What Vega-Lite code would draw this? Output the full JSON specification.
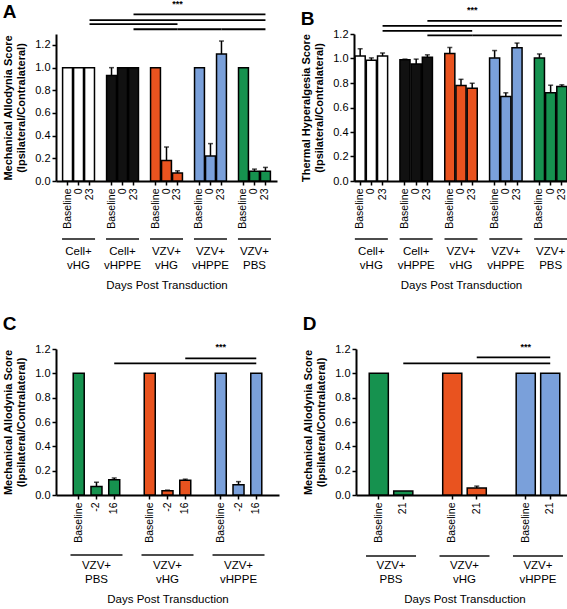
{
"$schema": "https://vega.github.io/schema/vega-lite/v6.json",
"background": "white",
"padding": {"left": 2, "top": 0, "right": 2, "bottom": 0},
"config": {
  "font": "Liberation Sans",
  "view": {"stroke": null},
  "axis": {"domainColor": "black", "domainWidth": 2, "tickColor": "black", "tickWidth": 1.5, "labelColor": "black", "titleColor": "black", "grid": false, "labelFontSize": 11, "titleFontSize": 11, "labelOverlap": false},
  "axisY": {"tickSize": 4, "labelPadding": 2, "titleFontWeight": "bold", "titlePadding": 8},
  "axisX": {"tickSize": 4, "labelPadding": 3, "labelFontSize": 10.5, "titleFontWeight": "normal", "titleFontSize": 11.5, "titlePadding": 51},
  "title": {"fontSize": 19, "fontWeight": "bold", "anchor": "start", "color": "black"}
},
"datasets": {
  "aBars": [
    {"key": "Cell+ vHG|Baseline", "group": "Cell+ vHG", "value": 1.0},
    {"key": "Cell+ vHG|0", "group": "Cell+ vHG", "value": 1.0},
    {"key": "Cell+ vHG|23", "group": "Cell+ vHG", "value": 1.0},
    {"key": "Cell+ vHPPE|Baseline", "group": "Cell+ vHPPE", "value": 0.93, "upper": 1.0},
    {"key": "Cell+ vHPPE|0", "group": "Cell+ vHPPE", "value": 1.0},
    {"key": "Cell+ vHPPE|23", "group": "Cell+ vHPPE", "value": 1.0},
    {"key": "VZV+ vHG|Baseline", "group": "VZV+ vHG", "value": 1.0},
    {"key": "VZV+ vHG|0", "group": "VZV+ vHG", "value": 0.18, "upper": 0.3},
    {"key": "VZV+ vHG|23", "group": "VZV+ vHG", "value": 0.07, "upper": 0.09},
    {"key": "VZV+ vHPPE|Baseline", "group": "VZV+ vHPPE", "value": 1.0},
    {"key": "VZV+ vHPPE|0", "group": "VZV+ vHPPE", "value": 0.22, "upper": 0.33},
    {"key": "VZV+ vHPPE|23", "group": "VZV+ vHPPE", "value": 1.12, "upper": 1.235},
    {"key": "VZV+ PBS|Baseline", "group": "VZV+ PBS", "value": 1.0},
    {"key": "VZV+ PBS|0", "group": "VZV+ PBS", "value": 0.085, "upper": 0.105},
    {"key": "VZV+ PBS|23", "group": "VZV+ PBS", "value": 0.085, "upper": 0.12}
  ],
  "abGroups": [
    {"group": "Cell+ vHG", "key": "Cell+ vHG|0"},
    {"group": "Cell+ vHPPE", "key": "Cell+ vHPPE|0"},
    {"group": "VZV+ vHG", "key": "VZV+ vHG|0"},
    {"group": "VZV+ vHPPE", "key": "VZV+ vHPPE|0"},
    {"group": "VZV+ PBS", "key": "VZV+ PBS|0"}
  ],
  "aSig": [
    {"line": 1, "key": "Cell+ vHPPE|23", "value": 1.471}, {"line": 1, "key": "VZV+ PBS|23", "value": 1.471},
    {"line": 2, "key": "Cell+ vHG|23", "value": 1.42}, {"line": 2, "key": "VZV+ PBS|23", "value": 1.42},
    {"line": 3, "key": "Cell+ vHG|23", "value": 1.385}, {"line": 3, "key": "VZV+ vHG|23", "value": 1.385},
    {"line": 4, "key": "Cell+ vHPPE|23", "value": 1.339}, {"line": 4, "key": "VZV+ vHG|23", "value": 1.339},
    {"line": 5, "key": "VZV+ vHG|23", "value": 1.339}, {"line": 5, "key": "VZV+ vHPPE|23", "value": 1.339},
    {"line": 6, "key": "VZV+ vHPPE|23", "value": 1.339}, {"line": 6, "key": "VZV+ PBS|23", "value": 1.339}
  ],
  "aStar": [{"key": "VZV+ vHG|23", "value": 1.56, "label": "***"}],
  "bBars": [
    {"key": "Cell+ vHG|Baseline", "group": "Cell+ vHG", "value": 1.02, "upper": 1.08},
    {"key": "Cell+ vHG|0", "group": "Cell+ vHG", "value": 0.985, "upper": 1.005},
    {"key": "Cell+ vHG|23", "group": "Cell+ vHG", "value": 1.02, "upper": 1.045},
    {"key": "Cell+ vHPPE|Baseline", "group": "Cell+ vHPPE", "value": 0.99, "upper": 0.995},
    {"key": "Cell+ vHPPE|0", "group": "Cell+ vHPPE", "value": 0.955, "upper": 0.995},
    {"key": "Cell+ vHPPE|23", "group": "Cell+ vHPPE", "value": 1.01, "upper": 1.03},
    {"key": "VZV+ vHG|Baseline", "group": "VZV+ vHG", "value": 1.04, "upper": 1.09},
    {"key": "VZV+ vHG|0", "group": "VZV+ vHG", "value": 0.78, "upper": 0.83},
    {"key": "VZV+ vHG|23", "group": "VZV+ vHG", "value": 0.757, "upper": 0.798},
    {"key": "VZV+ vHPPE|Baseline", "group": "VZV+ vHPPE", "value": 1.005, "upper": 1.065},
    {"key": "VZV+ vHPPE|0", "group": "VZV+ vHPPE", "value": 0.69, "upper": 0.72},
    {"key": "VZV+ vHPPE|23", "group": "VZV+ vHPPE", "value": 1.088, "upper": 1.126},
    {"key": "VZV+ PBS|Baseline", "group": "VZV+ PBS", "value": 1.005, "upper": 1.037},
    {"key": "VZV+ PBS|0", "group": "VZV+ PBS", "value": 0.72, "upper": 0.782},
    {"key": "VZV+ PBS|23", "group": "VZV+ PBS", "value": 0.772, "upper": 0.785}
  ],
  "bSig": [
    {"line": 1, "key": "Cell+ vHPPE|23", "value": 1.307}, {"line": 1, "key": "VZV+ PBS|23", "value": 1.307},
    {"line": 2, "key": "Cell+ vHG|23", "value": 1.266}, {"line": 2, "key": "VZV+ PBS|23", "value": 1.266},
    {"line": 3, "key": "Cell+ vHG|23", "value": 1.225}, {"line": 3, "key": "VZV+ vHG|23", "value": 1.225},
    {"line": 4, "key": "Cell+ vHPPE|23", "value": 1.189}, {"line": 4, "key": "VZV+ vHG|23", "value": 1.189},
    {"line": 5, "key": "VZV+ vHG|23", "value": 1.189}, {"line": 5, "key": "VZV+ vHPPE|23", "value": 1.189},
    {"line": 6, "key": "VZV+ vHPPE|23", "value": 1.189}, {"line": 6, "key": "VZV+ PBS|23", "value": 1.189}
  ],
  "bStar": [{"key": "VZV+ vHG|23", "value": 1.4, "label": "***"}],
  "cBars": [
    {"key": "VZV+ PBS|Baseline", "group": "VZV+ PBS", "value": 1.0},
    {"key": "VZV+ PBS|-2", "group": "VZV+ PBS", "value": 0.07, "upper": 0.105},
    {"key": "VZV+ PBS|16", "group": "VZV+ PBS", "value": 0.125, "upper": 0.14},
    {"key": "VZV+ vHG|Baseline", "group": "VZV+ vHG", "value": 1.0},
    {"key": "VZV+ vHG|-2", "group": "VZV+ vHG", "value": 0.035, "upper": 0.04},
    {"key": "VZV+ vHG|16", "group": "VZV+ vHG", "value": 0.122, "upper": 0.13},
    {"key": "VZV+ vHPPE|Baseline", "group": "VZV+ vHPPE", "value": 1.0},
    {"key": "VZV+ vHPPE|-2", "group": "VZV+ vHPPE", "value": 0.085, "upper": 0.11},
    {"key": "VZV+ vHPPE|16", "group": "VZV+ vHPPE", "value": 1.0}
  ],
  "cGroups": [
    {"group": "VZV+ PBS", "key": "VZV+ PBS|-2"},
    {"group": "VZV+ vHG", "key": "VZV+ vHG|-2"},
    {"group": "VZV+ vHPPE", "key": "VZV+ vHPPE|-2"}
  ],
  "cSig": [
    {"line": 1, "key": "VZV+ vHG|16", "value": 1.123}, {"line": 1, "key": "VZV+ vHPPE|16", "value": 1.123},
    {"line": 2, "key": "VZV+ PBS|16", "value": 1.082}, {"line": 2, "key": "VZV+ vHPPE|16", "value": 1.082}
  ],
  "cStar": [{"key": "VZV+ vHPPE|Baseline", "value": 1.22, "label": "***"}],
  "dBars": [
    {"key": "VZV+ PBS|Baseline", "group": "VZV+ PBS", "value": 1.0},
    {"key": "VZV+ PBS|21", "group": "VZV+ PBS", "value": 0.033},
    {"key": "VZV+ vHG|Baseline", "group": "VZV+ vHG", "value": 1.0},
    {"key": "VZV+ vHG|21", "group": "VZV+ vHG", "value": 0.057, "upper": 0.073},
    {"key": "VZV+ vHPPE|Baseline", "group": "VZV+ vHPPE", "value": 1.0},
    {"key": "VZV+ vHPPE|21", "group": "VZV+ vHPPE", "value": 1.0}
  ],
  "dGroups": [
    {"group": "VZV+ PBS", "key": "VZV+ PBS|21"},
    {"group": "VZV+ vHG", "key": "VZV+ vHG|21"},
    {"group": "VZV+ vHPPE", "key": "VZV+ vHPPE|21"}
  ],
  "dSig": [
    {"line": 1, "key": "VZV+ vHG|21", "value": 1.131}, {"line": 1, "key": "VZV+ vHPPE|21", "value": 1.131},
    {"line": 2, "key": "VZV+ PBS|21", "value": 1.082}, {"line": 2, "key": "VZV+ vHPPE|21", "value": 1.082}
  ],
  "dStar": [{"key": "VZV+ vHPPE|Baseline", "value": 1.22, "label": "***"}]
},
"spacing": 23,
"vconcat": [
{"spacing": 23, "hconcat": [
{
  "width": 221, "height": 147,
  "title": {"text": "A", "offset": -22},
  "encoding": {
    "x": {"field": "key", "type": "nominal",
      "scale": {"domain": ["Cell+ vHG|Baseline", "Cell+ vHG|0", "Cell+ vHG|23", "gap1", "Cell+ vHPPE|Baseline", "Cell+ vHPPE|0", "Cell+ vHPPE|23", "gap2", "VZV+ vHG|Baseline", "VZV+ vHG|0", "VZV+ vHG|23", "gap3", "VZV+ vHPPE|Baseline", "VZV+ vHPPE|0", "VZV+ vHPPE|23", "gap4", "VZV+ PBS|Baseline", "VZV+ PBS|0", "VZV+ PBS|23"], "paddingInner": 0.1, "paddingOuter": 0.6},
      "axis": {"title": "Days Post Transduction", "values": ["Cell+ vHG|Baseline", "Cell+ vHG|0", "Cell+ vHG|23", "Cell+ vHPPE|Baseline", "Cell+ vHPPE|0", "Cell+ vHPPE|23", "VZV+ vHG|Baseline", "VZV+ vHG|0", "VZV+ vHG|23", "VZV+ vHPPE|Baseline", "VZV+ vHPPE|0", "VZV+ vHPPE|23", "VZV+ PBS|Baseline", "VZV+ PBS|0", "VZV+ PBS|23"], "labelExpr": "indexof(datum.value, '|') > 0 ? split(datum.value, '|')[1] : ''", "labelAngle": 270, "labelOverlap": false}}
  },
  "layer": [
    {"data": {"name": "aBars"}, "mark": {"type": "bar", "stroke": "black", "strokeWidth": 1.5},
     "encoding": {
       "y": {"field": "value", "type": "quantitative", "scale": {"domain": [0, 1.297], "nice": false},
         "axis": {"title": ["Mechanical Allodynia Score", "(Ipsilateral/Contralateral)"], "values": [0, 0.2, 0.4, 0.6, 0.8, 1, 1.2], "tickCount": 10, "format": ".1f", "labelOverlap": false}},
       "fill": {"field": "group", "type": "nominal", "scale": {"domain": ["Cell+ vHG", "Cell+ vHPPE", "VZV+ vHG", "VZV+ vHPPE", "VZV+ PBS"], "range": ["#ffffff", "#111111", "#E9531F", "#7AA0DA", "#16924F"]}, "legend": null}}},
    {"data": {"name": "aBars"}, "transform": [{"filter": "isValid(datum.upper)"}], "mark": {"type": "rule", "color": "black", "strokeWidth": 1.5},
     "encoding": {"y": {"field": "value", "type": "quantitative", "scale": {"domain": [0, 1.297], "nice": false}}, "y2": {"field": "upper"}}},
    {"data": {"name": "aBars"}, "transform": [{"filter": "isValid(datum.upper)"}], "mark": {"type": "tick", "orient": "horizontal", "color": "black", "size": 5, "thickness": 1.5},
     "encoding": {"y": {"field": "upper", "type": "quantitative", "scale": {"domain": [0, 1.297], "nice": false}}}},
    {"data": {"name": "abGroups"}, "mark": {"type": "tick", "orient": "horizontal", "color": "black", "size": 33, "thickness": 2, "yOffset": 58},
     "encoding": {"y": {"datum": 0, "type": "quantitative", "scale": {"domain": [0, 1.297], "nice": false}}}},
    {"data": {"name": "abGroups"}, "mark": {"type": "text", "lineBreak": " ", "lineHeight": 14, "fontSize": 11.5, "baseline": "top", "yOffset": 65, "color": "black"},
     "encoding": {"y": {"datum": 0, "type": "quantitative", "scale": {"domain": [0, 1.297], "nice": false}}, "text": {"field": "group"}}},
    {"data": {"name": "aSig"}, "mark": {"type": "line", "color": "black", "strokeWidth": 1.8},
     "encoding": {"y": {"field": "value", "type": "quantitative", "scale": {"domain": [0, 1.297], "nice": false}}, "detail": {"field": "line"}}},
    {"data": {"name": "aStar"}, "mark": {"type": "text", "fontSize": 9, "fontWeight": "bold", "baseline": "middle", "color": "black"},
     "encoding": {"y": {"field": "value", "type": "quantitative", "scale": {"domain": [0, 1.297], "nice": false}}, "text": {"field": "label"}}}
  ]
},
{
  "width": 214, "height": 147,
  "title": {"text": "B", "offset": -23},
  "encoding": {
    "x": {"field": "key", "type": "nominal",
      "scale": {"domain": ["Cell+ vHG|Baseline", "Cell+ vHG|0", "Cell+ vHG|23", "gap1", "Cell+ vHPPE|Baseline", "Cell+ vHPPE|0", "Cell+ vHPPE|23", "gap2", "VZV+ vHG|Baseline", "VZV+ vHG|0", "VZV+ vHG|23", "gap3", "VZV+ vHPPE|Baseline", "VZV+ vHPPE|0", "VZV+ vHPPE|23", "gap4", "VZV+ PBS|Baseline", "VZV+ PBS|0", "VZV+ PBS|23"], "paddingInner": 0.1, "paddingOuter": 0.1},
      "axis": {"title": "Days Post Transduction", "values": ["Cell+ vHG|Baseline", "Cell+ vHG|0", "Cell+ vHG|23", "Cell+ vHPPE|Baseline", "Cell+ vHPPE|0", "Cell+ vHPPE|23", "VZV+ vHG|Baseline", "VZV+ vHG|0", "VZV+ vHG|23", "VZV+ vHPPE|Baseline", "VZV+ vHPPE|0", "VZV+ vHPPE|23", "VZV+ PBS|Baseline", "VZV+ PBS|0", "VZV+ PBS|23"], "labelExpr": "indexof(datum.value, '|') > 0 ? split(datum.value, '|')[1] : ''", "labelAngle": 270, "labelOverlap": false}}
  },
  "layer": [
    {"data": {"name": "bBars"}, "mark": {"type": "bar", "stroke": "black", "strokeWidth": 1.5},
     "encoding": {
       "y": {"field": "value", "type": "quantitative", "scale": {"domain": [0, 1.2], "nice": false},
         "axis": {"title": ["Thermal Hyperalgesia Score", "(Ipsilateral/Contralateral)"], "values": [0, 0.2, 0.4, 0.6, 0.8, 1, 1.2], "tickCount": 10, "format": ".1f", "labelOverlap": false}},
       "fill": {"field": "group", "type": "nominal", "scale": {"domain": ["Cell+ vHG", "Cell+ vHPPE", "VZV+ vHG", "VZV+ vHPPE", "VZV+ PBS"], "range": ["#ffffff", "#111111", "#E9531F", "#7AA0DA", "#16924F"]}, "legend": null}}},
    {"data": {"name": "bBars"}, "transform": [{"filter": "isValid(datum.upper)"}], "mark": {"type": "rule", "color": "black", "strokeWidth": 1.5},
     "encoding": {"y": {"field": "value", "type": "quantitative", "scale": {"domain": [0, 1.2], "nice": false}}, "y2": {"field": "upper"}}},
    {"data": {"name": "bBars"}, "transform": [{"filter": "isValid(datum.upper)"}], "mark": {"type": "tick", "orient": "horizontal", "color": "black", "size": 5, "thickness": 1.5},
     "encoding": {"y": {"field": "upper", "type": "quantitative", "scale": {"domain": [0, 1.2], "nice": false}}}},
    {"data": {"name": "abGroups"}, "mark": {"type": "tick", "orient": "horizontal", "color": "black", "size": 33, "thickness": 2, "yOffset": 58},
     "encoding": {"y": {"datum": 0, "type": "quantitative", "scale": {"domain": [0, 1.2], "nice": false}}}},
    {"data": {"name": "abGroups"}, "mark": {"type": "text", "lineBreak": " ", "lineHeight": 14, "fontSize": 11.5, "baseline": "top", "yOffset": 65, "color": "black"},
     "encoding": {"y": {"datum": 0, "type": "quantitative", "scale": {"domain": [0, 1.2], "nice": false}}, "text": {"field": "group"}}},
    {"data": {"name": "bSig"}, "mark": {"type": "line", "color": "black", "strokeWidth": 1.8},
     "encoding": {"y": {"field": "value", "type": "quantitative", "scale": {"domain": [0, 1.2], "nice": false}}, "detail": {"field": "line"}}},
    {"data": {"name": "bStar"}, "mark": {"type": "text", "fontSize": 9, "fontWeight": "bold", "baseline": "middle", "color": "black"},
     "encoding": {"y": {"field": "value", "type": "quantitative", "scale": {"domain": [0, 1.2], "nice": false}}, "text": {"field": "label"}}}
  ]
}
]},
{"spacing": 23, "hconcat": [
{
  "width": 223, "height": 146,
  "title": {"text": "C", "offset": 9},
  "encoding": {
    "x": {"field": "key", "type": "nominal",
      "scale": {"domain": ["VZV+ PBS|Baseline", "VZV+ PBS|-2", "VZV+ PBS|16", "gap1", "VZV+ vHG|Baseline", "VZV+ vHG|-2", "VZV+ vHG|16", "gap2", "VZV+ vHPPE|Baseline", "VZV+ vHPPE|-2", "VZV+ vHPPE|16"], "paddingInner": 0.38, "paddingOuter": 0.97},
      "axis": {"title": "Days Post Transduction", "values": ["VZV+ PBS|Baseline", "VZV+ PBS|-2", "VZV+ PBS|16", "VZV+ vHG|Baseline", "VZV+ vHG|-2", "VZV+ vHG|16", "VZV+ vHPPE|Baseline", "VZV+ vHPPE|-2", "VZV+ vHPPE|16"], "labelExpr": "indexof(datum.value, '|') > 0 ? split(datum.value, '|')[1] : ''", "labelAngle": 270, "labelOverlap": false}}
  },
  "layer": [
    {"data": {"name": "cBars"}, "mark": {"type": "bar", "stroke": "black", "strokeWidth": 1.5},
     "encoding": {
       "y": {"field": "value", "type": "quantitative", "scale": {"domain": [0, 1.2], "nice": false},
         "axis": {"title": ["Mechanical Allodynia Score", "(Ipsilateral/Contralateral)"], "values": [0, 0.2, 0.4, 0.6, 0.8, 1, 1.2], "tickCount": 10, "format": ".1f", "labelOverlap": false}},
       "fill": {"field": "group", "type": "nominal", "scale": {"domain": ["Cell+ vHG", "Cell+ vHPPE", "VZV+ vHG", "VZV+ vHPPE", "VZV+ PBS"], "range": ["#ffffff", "#111111", "#E9531F", "#7AA0DA", "#16924F"]}, "legend": null}}},
    {"data": {"name": "cBars"}, "transform": [{"filter": "isValid(datum.upper)"}], "mark": {"type": "rule", "color": "black", "strokeWidth": 1.5},
     "encoding": {"y": {"field": "value", "type": "quantitative", "scale": {"domain": [0, 1.2], "nice": false}}, "y2": {"field": "upper"}}},
    {"data": {"name": "cBars"}, "transform": [{"filter": "isValid(datum.upper)"}], "mark": {"type": "tick", "orient": "horizontal", "color": "black", "size": 5, "thickness": 1.5},
     "encoding": {"y": {"field": "upper", "type": "quantitative", "scale": {"domain": [0, 1.2], "nice": false}}}},
    {"data": {"name": "cGroups"}, "mark": {"type": "tick", "orient": "horizontal", "color": "black", "size": 52, "thickness": 2, "yOffset": 60},
     "encoding": {"y": {"datum": 0, "type": "quantitative", "scale": {"domain": [0, 1.2], "nice": false}}}},
    {"data": {"name": "cGroups"}, "mark": {"type": "text", "lineBreak": " ", "lineHeight": 14, "fontSize": 11.5, "baseline": "top", "yOffset": 65, "color": "black"},
     "encoding": {"y": {"datum": 0, "type": "quantitative", "scale": {"domain": [0, 1.2], "nice": false}}, "text": {"field": "group"}}},
    {"data": {"name": "cSig"}, "mark": {"type": "line", "color": "black", "strokeWidth": 1.8},
     "encoding": {"y": {"field": "value", "type": "quantitative", "scale": {"domain": [0, 1.2], "nice": false}}, "detail": {"field": "line"}}},
    {"data": {"name": "cStar"}, "mark": {"type": "text", "fontSize": 9, "fontWeight": "bold", "baseline": "middle", "color": "black"},
     "encoding": {"y": {"field": "value", "type": "quantitative", "scale": {"domain": [0, 1.2], "nice": false}}, "text": {"field": "label"}}}
  ]
},
{
  "width": 217, "height": 146,
  "title": {"text": "D", "offset": 9},
  "encoding": {
    "x": {"field": "key", "type": "nominal",
      "scale": {"domain": ["VZV+ PBS|Baseline", "VZV+ PBS|21", "gap1", "VZV+ vHG|Baseline", "VZV+ vHG|21", "gap2", "VZV+ vHPPE|Baseline", "VZV+ vHPPE|21"], "paddingInner": 0.22, "paddingOuter": 0.54},
      "axis": {"title": "Days Post Transduction", "values": ["VZV+ PBS|Baseline", "VZV+ PBS|21", "VZV+ vHG|Baseline", "VZV+ vHG|21", "VZV+ vHPPE|Baseline", "VZV+ vHPPE|21"], "labelExpr": "indexof(datum.value, '|') > 0 ? split(datum.value, '|')[1] : ''", "labelAngle": 270, "labelOverlap": false}}
  },
  "layer": [
    {"data": {"name": "dBars"}, "mark": {"type": "bar", "stroke": "black", "strokeWidth": 1.5},
     "encoding": {
       "y": {"field": "value", "type": "quantitative", "scale": {"domain": [0, 1.2], "nice": false},
         "axis": {"title": ["Mechanical Allodynia Score", "(Ipsilateral/Contralateral)"], "values": [0, 0.2, 0.4, 0.6, 0.8, 1, 1.2], "tickCount": 10, "format": ".1f", "labelOverlap": false}},
       "fill": {"field": "group", "type": "nominal", "scale": {"domain": ["Cell+ vHG", "Cell+ vHPPE", "VZV+ vHG", "VZV+ vHPPE", "VZV+ PBS"], "range": ["#ffffff", "#111111", "#E9531F", "#7AA0DA", "#16924F"]}, "legend": null}}},
    {"data": {"name": "dBars"}, "transform": [{"filter": "isValid(datum.upper)"}], "mark": {"type": "rule", "color": "black", "strokeWidth": 1.5},
     "encoding": {"y": {"field": "value", "type": "quantitative", "scale": {"domain": [0, 1.2], "nice": false}}, "y2": {"field": "upper"}}},
    {"data": {"name": "dBars"}, "transform": [{"filter": "isValid(datum.upper)"}], "mark": {"type": "tick", "orient": "horizontal", "color": "black", "size": 5, "thickness": 1.5},
     "encoding": {"y": {"field": "upper", "type": "quantitative", "scale": {"domain": [0, 1.2], "nice": false}}}},
    {"data": {"name": "dGroups"}, "mark": {"type": "tick", "orient": "horizontal", "color": "black", "size": 50, "thickness": 2, "yOffset": 61, "xOffset": -12.25},
     "encoding": {"y": {"datum": 0, "type": "quantitative", "scale": {"domain": [0, 1.2], "nice": false}}}},
    {"data": {"name": "dGroups"}, "mark": {"type": "text", "lineBreak": " ", "lineHeight": 14, "fontSize": 11.5, "baseline": "top", "yOffset": 65, "xOffset": -12.25, "color": "black"},
     "encoding": {"y": {"datum": 0, "type": "quantitative", "scale": {"domain": [0, 1.2], "nice": false}}, "text": {"field": "group"}}},
    {"data": {"name": "dSig"}, "mark": {"type": "line", "color": "black", "strokeWidth": 1.8},
     "encoding": {"y": {"field": "value", "type": "quantitative", "scale": {"domain": [0, 1.2], "nice": false}}, "detail": {"field": "line"}}},
    {"data": {"name": "dStar"}, "mark": {"type": "text", "fontSize": 9, "fontWeight": "bold", "baseline": "middle", "color": "black"},
     "encoding": {"y": {"field": "value", "type": "quantitative", "scale": {"domain": [0, 1.2], "nice": false}}, "text": {"field": "label"}}}
  ]
}
]}
]
}
